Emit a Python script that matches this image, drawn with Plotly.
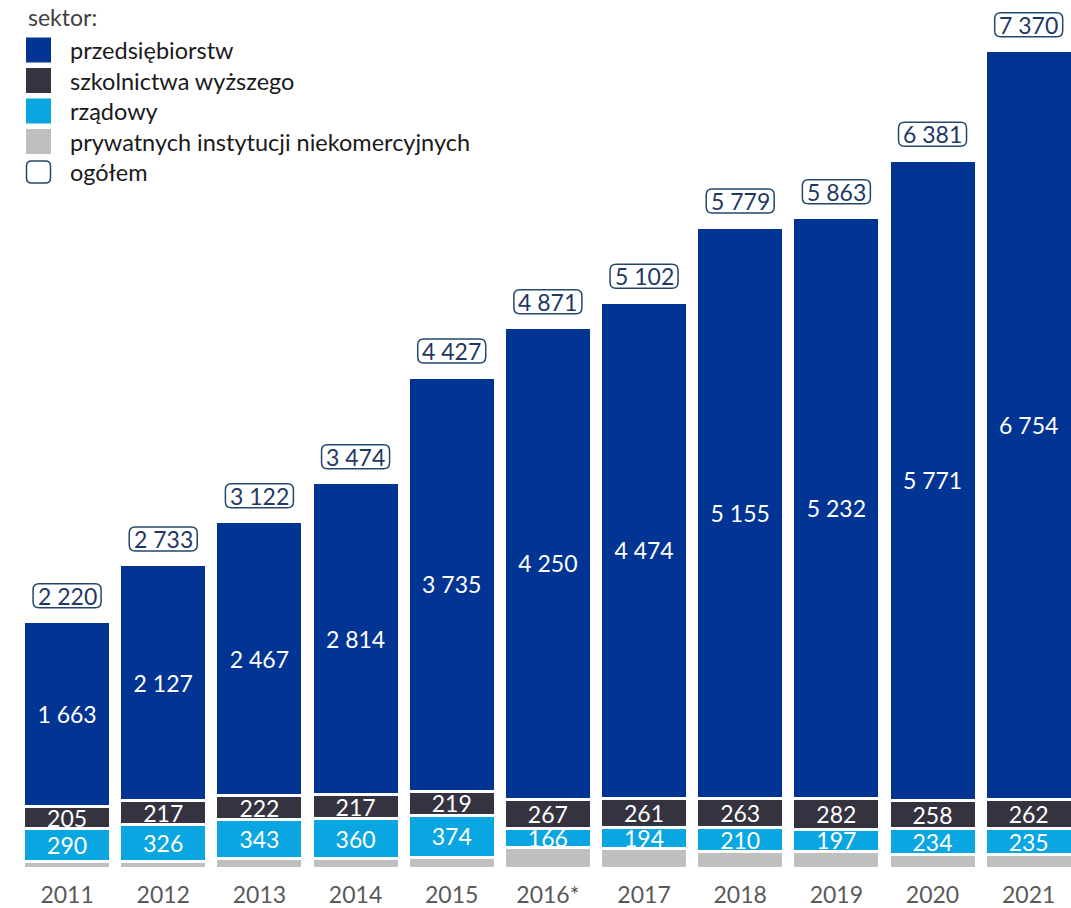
import plotly.graph_objects as go

years = ["2011", "2012", "2013", "2014", "2015", "2016*", "2017", "2018", "2019", "2020", "2021"]
przedsiebiorstw = [1663, 2127, 2467, 2814, 3735, 4250, 4474, 5155, 5232, 5771, 6754]
szkolnictwa = [205, 217, 222, 217, 219, 267, 261, 263, 282, 258, 262]
rzadowy = [290, 326, 343, 360, 374, 166, 194, 210, 197, 234, 235]
ogolem = [2220, 2733, 3122, 3474, 4427, 4871, 5102, 5779, 5863, 6381, 7370]
prywatnych = [t - a - b - c for t, a, b, c in zip(ogolem, przedsiebiorstw, szkolnictwa, rzadowy)]

FONT = "Lato"
FS = 23
C_BLUE = "#023593"
C_DARK = "#35333F"
C_LIGHT = "#0AA6E2"
C_GRAY = "#BFBFBF"
C_NAVY = "#24476B"

PW = 1052  # plot width
PH = 868   # plot height


def fmt(v):
    return f"{v:,}".replace(",", " ")


x = list(range(len(years)))
fig = go.Figure()
series = [
    ("prywatnych instytucji niekomercyjnych", prywatnych, C_GRAY, False),
    ("rządowy", rzadowy, C_LIGHT, True),
    ("szkolnictwa wyższego", szkolnictwa, C_DARK, True),
    ("przedsiębiorstw", przedsiebiorstw, C_BLUE, True),
]
for name, vals, col, lab in series:
    fig.add_trace(go.Bar(
        x=x, y=vals, name=name,
        marker=dict(color=col, line=dict(color="white", width=3)),
        text=[fmt(v) for v in vals] if lab else None,
        textposition="inside" if lab else "none",
        insidetextanchor="middle",
        textfont=dict(family=FONT, size=FS, color="white"),
        showlegend=False,
        hoverinfo="skip",
    ))

ROUND_BOX = ("M -28 14 L 28 14 Q 34 14 34 20 L 34 32 Q 34 38 28 38 L -28 38 "
             "Q -34 38 -34 32 L -34 20 Q -34 14 -28 14 Z")
# total boxes
for i, t in enumerate(ogolem):
    fig.add_shape(
        type="path", xref="x", yref="y", xsizemode="pixel", ysizemode="pixel",
        xanchor=i, yanchor=t, path=ROUND_BOX,
        line=dict(color=C_NAVY, width=1.5), fillcolor="white", layer="above",
    )
    fig.add_annotation(x=i, y=t, text=fmt(t), showarrow=False, yshift=26,
                       font=dict(family=FONT, size=FS, color="#1F3864"))

# legend (manual)
fig.add_annotation(xref="paper", yref="paper", x=7 / PW, y=1 - 17 / PH, text="sektor:", showarrow=False,
                   xanchor="left", yanchor="middle", font=dict(family=FONT, size=FS, color="#404040"))
leg = [("przedsiębiorstw", C_BLUE), ("szkolnictwa wyższego", C_DARK), ("rządowy", C_LIGHT),
       ("prywatnych instytucji niekomercyjnych", C_GRAY), ("ogółem", None)]
for k, (name, col) in enumerate(leg):
    yc = 50 + k * 30.5
    if col:
        fig.add_shape(type="rect", xref="paper", yref="paper", x0=7 / PW, x1=32 / PW,
                      y0=1 - (yc + 12.5) / PH, y1=1 - (yc - 12.5) / PH, fillcolor=col, line=dict(width=0))
    else:
        fig.add_shape(
            type="path", xref="paper", yref="paper", xsizemode="pixel", ysizemode="pixel",
            xanchor=19.5 / PW, yanchor=1 - yc / PH,
            path="M -7 -11 L 7 -11 Q 12 -11 12 -6 L 12 6 Q 12 11 7 11 L -7 11 "
                 "Q -12 11 -12 6 L -12 -6 Q -12 -11 -7 -11 Z",
            fillcolor="white", line=dict(color=C_NAVY, width=1.5))
    fig.add_annotation(xref="paper", yref="paper", x=49 / PW, y=1 - yc / PH, text=name,
                       showarrow=False, xanchor="left", yanchor="middle",
                       font=dict(family=FONT, size=23.5, color="#1a1a1a"))

fig.update_layout(
    width=1071, height=908,
    margin=dict(l=19, r=0, t=0, b=40, autoexpand=False),
    barmode="stack", bargap=0.095,
    plot_bgcolor="white", paper_bgcolor="white",
    uniformtext=dict(minsize=FS, mode="show"),
    xaxis=dict(range=[-0.5, 10.44], tickmode="array", tickvals=x, ticktext=years,
               showgrid=False, zeroline=False, showline=False, ticks="",
               automargin=False, ticklabelstandoff=11,
               tickfont=dict(family=FONT, size=FS, color="#595959")),
    yaxis=dict(range=[0, 7827], visible=False, automargin=False),
)
fig.write_html("out.html")
